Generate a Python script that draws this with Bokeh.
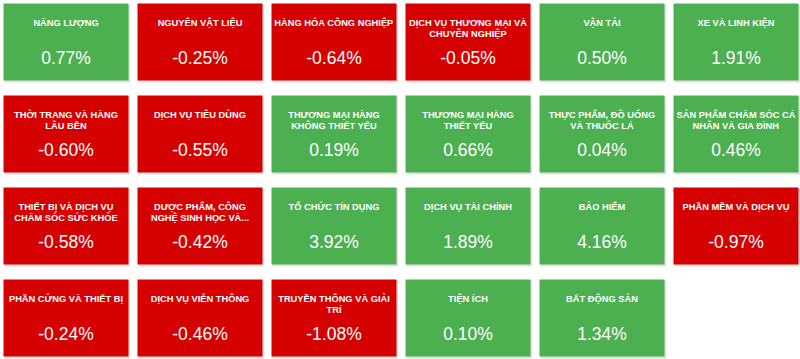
from bokeh.plotting import figure
from bokeh.models import ColumnDataSource, Range1d
from bokeh.embed import file_html
from bokeh.resources import INLINE
from bokeh.core.properties import value

sectors = [
    "NĂNG LƯỢNG", "NGUYÊN VẬT LIỆU", "HÀNG HÓA CÔNG NGHIỆP",
    "DỊCH VỤ THƯƠNG MẠI VÀ\nCHUYÊN NGHIỆP", "VẬN TẢI", "XE VÀ LINH KIỆN",
    "THỜI TRANG VÀ HÀNG\nLÂU BỀN", "DỊCH VỤ TIÊU DÙNG", "THƯƠNG MẠI HÀNG\nKHÔNG THIẾT YẾU",
    "THƯƠNG MẠI HÀNG\nTHIẾT YẾU", "THỰC PHẨM, ĐỒ UỐNG\nVÀ THUỐC LÁ", "SẢN PHẨM CHĂM SÓC CÁ\nNHÂN VÀ GIA ĐÌNH",
    "THIẾT BỊ VÀ DỊCH VỤ\nCHĂM SÓC SỨC KHỎE", "DƯỢC PHẨM, CÔNG\nNGHỆ SINH HỌC VÀ...", "TỔ CHỨC TÍN DỤNG",
    "DỊCH VỤ TÀI CHÍNH", "BẢO HIỂM", "PHẦN MỀM VÀ DỊCH VỤ",
    "PHẦN CỨNG VÀ THIẾT BỊ", "DỊCH VỤ VIỄN THÔNG", "TRUYỀN THÔNG VÀ GIẢI\nTRÍ",
    "TIỆN ÍCH", "BẤT ĐỘNG SẢN",
]
changes = [
    0.77, -0.25, -0.64, -0.05, 0.50, 1.91,
    -0.60, -0.55, 0.19, 0.66, 0.04, 0.46,
    -0.58, -0.42, 3.92, 1.89, 4.16, -0.97,
    -0.24, -0.46, -1.08, 0.10, 1.34,
]

W, H = 800, 359
NCOL = 6
CELL_W, CELL_H = 125, 77
PITCH_X, PITCH_Y = 134, 92
X0, Y0 = 3, 3
GREEN, RED = "#4caf50", "#d50000"

left, top, right, bottom, colors, vtext, cx = [], [], [], [], [], [], []
for i, v in enumerate(changes):
    c, r = i % NCOL, i // NCOL
    l = X0 + c * PITCH_X
    t = Y0 + r * PITCH_Y
    left.append(l); top.append(t); right.append(l + CELL_W); bottom.append(t + CELL_H)
    cx.append(l + CELL_W / 2)
    colors.append(GREEN if v >= 0 else RED)
    vtext.append(f"{v:.2f}%")

src = ColumnDataSource(dict(
    left=left, right=right, top=top, bottom=bottom, cx=cx,
    sl=[x + 1 for x in left], sr=[x + 1.5 for x in right],
    st=[y + 1 for y in top], sb=[y + 2 for y in bottom],
    ly=[y + 14.5 for y in top], vy=[y + 54 for y in top],
    color=colors, label=sectors, val=vtext,
))

p = figure(width=W, height=H, output_backend="svg", toolbar_location=None,
           x_range=Range1d(0, W), y_range=Range1d(H, 0), min_border=0)
p.axis.visible = False
p.grid.visible = False
p.outline_line_color = None
p.background_fill_color = "white"
p.border_fill_color = "white"

p.quad(left="sl", right="sr", top="st", bottom="sb", source=src,
       fill_color="#000000", fill_alpha=0.12, line_color=None)
p.quad(left="left", right="right", top="top", bottom="bottom", source=src,
       fill_color="color", line_color=None)
p.text(x="cx", y="ly", text="label", source=src, text_color="white",
       text_font=value("Liberation Sans"), text_font_style="bold",
       text_font_size="9.3px", text_align="center", text_baseline="top",
       text_line_height=1.05)
p.text(x="cx", y="vy", text="val", source=src, text_color="white",
       text_font=value("Liberation Sans"), text_font_size="17.5px",
       text_align="center", text_baseline="middle")

open("out.html", "w").write(file_html(p, INLINE))
